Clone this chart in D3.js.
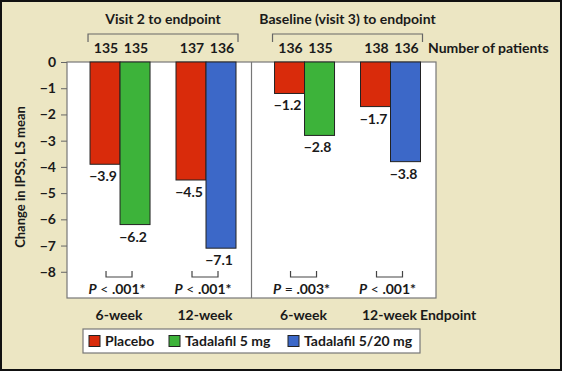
<!DOCTYPE html>
<html>
<head>
<meta charset="utf-8">
<script src="https://cdn.jsdelivr.net/npm/d3@7"></script>
<style>
  body { margin: 0; background: #fff; }
  svg text { font-family: Lato, "Open Sans", sans-serif; font-weight: bold; fill: #1a1a1a; }
</style>
</head>
<body>
<div id="chart"></div>
<script>
const panels = ["Visit 2 to endpoint", "Baseline (visit 3) to endpoint"];
const endpoints = ["6-week", "12-week"];
const series = ["Placebo", "Tadalafil 5 mg", "Tadalafil 5/20 mg"];
const colors = ["#d92b0b", "#3db33a", "#3c68c8"];
const yTicks = [0, -1, -2, -3, -4, -5, -6, -7, -8];

// one row per bar: panel, endpoint, series index, value, patients
const panelIdx = [0, 0, 0, 0, 1, 1, 1, 1];
const endpointIdx = [0, 0, 1, 1, 0, 0, 1, 1];
const seriesIdx = [0, 1, 0, 2, 0, 1, 0, 2];
const values = [-3.9, -6.2, -4.5, -7.1, -1.2, -2.8, -1.7, -3.8];
const patients = [135, 135, 137, 136, 136, 135, 138, 136];
const pValues = ["P < .001*", "P < .001*", "P = .003*", "P < .001*"];

const W = 562, H = 371;
const plot = { left: 67, right: 436, top: 62, bottom: 298 };

const svg = d3.select("#chart").append("svg")
  .attr("width", W).attr("height", H);

svg.append("rect")
  .attr("x", 1).attr("y", 1).attr("width", W - 2).attr("height", H - 2)
  .attr("fill", "#ece6c3").attr("stroke", "#111").attr("stroke-width", 2);

const y = d3.scaleLinear().domain([0, -9]).range([plot.top, plot.bottom]);

const px = d3.scaleBand().domain(d3.range(panels.length))
  .range([plot.left, plot.right]);

const gx = d3.scaleBand().domain(d3.range(endpoints.length))
  .range([0, px.bandwidth()]).paddingInner(0).paddingOuter(0.073).align(0.8);

const barW = 30;

svg.append("rect")
  .attr("x", plot.left).attr("y", plot.top)
  .attr("width", plot.right - plot.left).attr("height", plot.bottom - plot.top)
  .attr("fill", "#fff").attr("stroke", "#777").attr("stroke-width", 1.2);

svg.append("line")
  .attr("x1", px(1)).attr("x2", px(1))
  .attr("y1", plot.top).attr("y2", plot.bottom)
  .attr("stroke", "#777").attr("stroke-width", 1.2);

const yAxis = svg.append("g")
  .attr("transform", `translate(${plot.left},0)`)
  .call(d3.axisLeft(y).tickValues(yTicks).tickSize(6).tickPadding(5)
    .tickFormat(d => d < 0 ? "\u2212" + Math.abs(d) : d));
yAxis.select(".domain").remove();
yAxis.selectAll(".tick line").attr("stroke", "#666");
yAxis.selectAll("text").attr("font-size", 14);

svg.append("text")
  .attr("transform", `translate(25,177) rotate(-90)`)
  .attr("text-anchor", "middle").attr("font-size", 13)
  .text("Change in IPSS, LS mean");

const center = (p, e) => px(p) + gx(e) + gx.bandwidth() / 2;

const bars = values.map((v, i) => {
  const cx = center(panelIdx[i], endpointIdx[i]);
  const first = i % 2 === 0;
  return { v, s: seriesIdx[i], n: patients[i], x: first ? cx - barW : cx, cx };
});

svg.selectAll(".bar").data(bars).enter().append("rect")
  .attr("class", "bar")
  .attr("x", d => d.x).attr("y", y(0))
  .attr("width", barW).attr("height", d => y(d.v) - y(0))
  .attr("fill", d => colors[d.s]).attr("stroke", "#222").attr("stroke-width", 1);

svg.selectAll(".val").data(bars).enter().append("text")
  .attr("x", d => d.x + barW / 2 - 2).attr("y", d => y(d.v) + 17)
  .attr("text-anchor", "middle").attr("font-size", 14)
  .text(d => "\u2212" + Math.abs(d.v).toFixed(1));

svg.selectAll(".n").data(bars).enter().append("text")
  .attr("x", d => d.x + barW / 2 + 1).attr("y", 53)
  .attr("text-anchor", "middle").attr("font-size", 14)
  .text(d => d.n);

svg.append("text").attr("x", 428).attr("y", 53).attr("font-size", 14)
  .text("Number of patients");

// panel headers with brackets
panels.forEach((p, i) => {
  const x0 = center(i, 0) - 32, x1 = center(i, 1) + 32;
  svg.append("path")
    .attr("d", `M${x0},${42}V${34}H${x1}V${42}`)
    .attr("fill", "none").attr("stroke", "#666").attr("stroke-width", 1.2);
  svg.append("text")
    .attr("x", (x0 + x1) / 2).attr("y", 24)
    .attr("text-anchor", "middle").attr("font-size", 14)
    .text(p);
});

// p-value brackets and labels
const groups = d3.range(4).map(k => ({
  cx: center(Math.floor(k / 2), k % 2),
  p: pValues[k],
  label: endpoints[k % 2]
}));

svg.selectAll(".pb").data(groups).enter().append("path")
  .attr("d", d => `M${d.cx - 14},271V277H${d.cx + 12}V271`)
  .attr("fill", "none").attr("stroke", "#444").attr("stroke-width", 1.2);

groups.forEach(d => {
  const t = svg.append("text").attr("x", d.cx - 3).attr("y", 294)
    .attr("text-anchor", "middle").attr("font-size", 14);
  const parts = d.p.split(" ");
  t.append("tspan").attr("font-style", "italic").text(parts[0]);
  t.append("tspan").attr("font-weight", "normal").text(" " + parts[1] + " ");
  t.append("tspan").text(parts[2]);
});

svg.selectAll(".cat").data(groups).enter().append("text")
  .attr("x", d => d.cx - 1).attr("y", 320)
  .attr("text-anchor", "middle").attr("font-size", 14)
  .text(d => d.label);

svg.append("text").attr("x", 420).attr("y", 320).attr("font-size", 14)
  .text("Endpoint");

// legend
const lg = svg.append("g");
lg.append("rect").attr("x", 83).attr("y", 329).attr("width", 337).attr("height", 24)
  .attr("fill", "#fff").attr("stroke", "#777").attr("stroke-width", 1.2);
const legX = [89, 169, 288];
series.forEach((s, i) => {
  lg.append("rect").attr("x", legX[i]).attr("y", 335.5).attr("width", 11).attr("height", 11)
    .attr("fill", colors[i]).attr("stroke", "#222").attr("stroke-width", 1);
  lg.append("text").attr("x", legX[i] + 16).attr("y", 346).attr("font-size", 14)
    .text(s);
});
</script>
</body>
</html>
